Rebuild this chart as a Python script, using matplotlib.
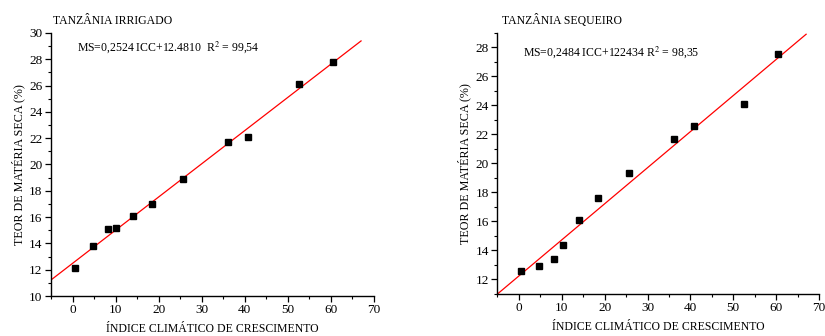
import matplotlib
matplotlib.use("Agg")
import matplotlib.pyplot as plt
import numpy as np
from matplotlib.ticker import MultipleLocator

plt.rcParams['font.family'] = ['Liberation Serif', 'DejaVu Serif']
plt.rcParams['mathtext.fontset'] = 'stix'

# Índice climático de crescimento (ICC)
icc = [0.5, 4.7, 8.2, 10.2, 14.1, 18.5, 25.6, 36.2, 40.8, 52.6, 60.5]

# Teor de matéria seca (%)
ms_irrigado = [12.1, 13.8, 15.1, 15.2, 16.1, 17.0, 18.9, 21.7, 22.1, 26.1, 27.8]
ms_sequeiro = [12.6, 12.9, 13.4, 14.4, 16.1, 17.6, 19.3, 21.7, 22.6, 24.1, 27.5]

# Regressões ajustadas
coef_irrigado = (0.2524, 12.4810)
coef_sequeiro = (0.2484, 12.2434)

titles = ["TANZÂNIA IRRIGADO", "TANZÂNIA SEQUEIRO"]
equations = ["MS=0,2524 ICC+12.4810  R$^2$ = 99,54",
             "MS=0,2484 ICC+122434 R$^2$ = 98,35"]
xlabel = "ÍNDICE CLIMÁTICO DE CRESCIMENTO"
ylabel = "TEOR DE MATÉRIA SECA (%)"

fig = plt.figure(figsize=(8.25, 3.36), dpi=100)

panels = [
    dict(rect=[0.0618, 0.119, 0.3915, 0.783], y=ms_irrigado, coef=coef_irrigado,
         ylim=(10, 30), title_xy=(53, 21), eq_xy=(77, 47)),
    dict(rect=[0.603, 0.125, 0.3897, 0.778], y=ms_sequeiro, coef=coef_sequeiro,
         ylim=(11, 29), title_xy=(502, 20), eq_xy=(523, 52)),
]

for i, p in enumerate(panels):
    ax = fig.add_axes(p['rect'])
    ax.set_xlim(-5, 70)
    ax.set_ylim(*p['ylim'])
    for s in ['top', 'right']:
        ax.spines[s].set_visible(False)
    for s in ['left', 'bottom']:
        ax.spines[s].set_linewidth(1.0)

    a, b = p['coef']
    xl = np.array([-5, 67])
    ax.plot(xl, a * xl + b, color='red', lw=0.9, zorder=2)
    ax.plot(icc, p['y'], 's', color='black', ms=4.5, zorder=3)

    ax.xaxis.set_major_locator(MultipleLocator(10))
    ax.xaxis.set_minor_locator(MultipleLocator(5))
    ax.yaxis.set_major_locator(MultipleLocator(2))
    ax.yaxis.set_minor_locator(MultipleLocator(1))
    ax.tick_params(which='major', direction='out', length=4.5, width=0.9,
                   labelsize=9.5, pad=1.5)
    ax.tick_params(which='minor', direction='out', length=2.5, width=0.8)

    ax.set_xlabel(xlabel, fontsize=8.5, labelpad=5)
    ax.set_ylabel(ylabel, fontsize=8.75, labelpad=3)

    tx, ty = p['title_xy']
    fig.text(tx / 825, 1 - ty / 336, titles[i], fontsize=8.5, ha='left', va='center')
    ex, ey = p['eq_xy']
    fig.text(ex / 825, 1 - ey / 336, equations[i], fontsize=8.5, ha='left', va='center')

fig.savefig("out.png", dpi=100)
